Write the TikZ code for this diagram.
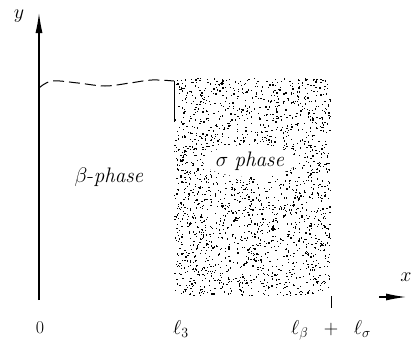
\RequirePackage{fix-cm}
\documentclass[tikz,border=0pt]{standalone}
\usetikzlibrary{arrows.meta}
\begin{document}
\begin{tikzpicture}[x=1pt,y=-1pt,
  axis/.style={line width=1.1pt,-{Latex[length=20pt,width=7pt]}},
  lab/.style={inner sep=0pt,font=\fontsize{20}{24}\selectfont},
  phase/.style={inner sep=0pt,font=\fontsize{21}{25}\selectfont},
  dot/.style={fill=black}]
\useasboundingbox (0,0) rectangle (414,348);
% stippled sigma region
\pgfmathsetseed{4242}
\foreach \i in {1,...,2100}{
  \pgfmathsetmacro\px{174+156*rnd}
  \pgfmathsetmacro\py{78+217*rnd}
  \fill[dot] (\px,\py) rectangle ++(1.25,1.25);
}
\fill[white] (250,161) ellipse (47 and 16);
% coordinates
\coordinate (O) at (39,300);
\coordinate (ytip) at (39,13);
\coordinate (xs) at (379,297);
\coordinate (xt) at (406,297);
\coordinate (w0) at (39,88);
\coordinate (w1) at (174,81);
\coordinate (w2) at (174,122);
\coordinate (t0) at (331,296);
\coordinate (t1) at (331,308);
% axes
\draw[axis] (O) -- (ytip);
\draw[axis] (xs) -- (xt);
% wavy dashed boundary
\draw[line width=1pt,dash pattern=on 11pt off 5pt] plot[smooth,tension=0.6] coordinates {(w0) (52,81) (78,83) (105,86) (130,83) (152,80) (w1)};
\draw[line width=1pt] (w1) -- (w2);
\draw[line width=0.8pt] (t0) -- (t1);
% labels
\node[lab] (ylab) at (19,16) {$y$};
\node[lab] (xlab) at (406,277) {$x$};
\node[lab,font=\fontsize{18}{22}\selectfont] (zero) at (40,328) {0};
\node[lab] (l3) at (181,329) {$\ell_3$};
\node[lab,anchor=base] (lsum) at (331,334) {$\ell_\beta\;\;+\;\;\ell_\sigma$};
\node[phase] (beta) at (109,177) {$\beta$-\textit{phase}};
\node[phase] (sigma) at (250,161) {$\sigma$ \textit{phase}};
\end{tikzpicture}
\end{document}
